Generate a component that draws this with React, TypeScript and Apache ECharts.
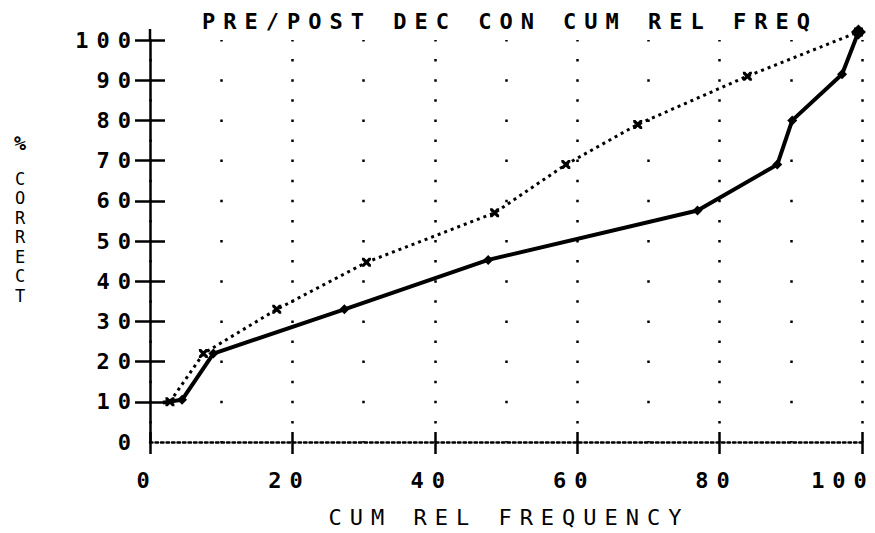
import React, { useEffect, useRef } from "react";
import * as echarts from "echarts";

// ---- data ----
const xTickValues = [0, 20, 40, 60, 80, 100];
const yTickValues = [0, 10, 20, 30, 40, 50, 60, 70, 80, 90, 100];
const yCrossTicks = [10, 20, 30, 40, 50, 60, 70, 80, 90, 100];

const solidX = [1.8, 4.5, 8.9, 27.3, 47.5, 76.9, 88.1, 90.2, 97.2, 99.5];
const solidY = [9.8, 10.5, 22, 33, 45.3, 57.6, 69, 80, 91.5, 102];

const dottedX = [2.8, 7.5, 17.8, 30.4, 48.4, 58.4, 68.5, 83.9, 99.5];
const dottedY = [10, 22, 33, 44.7, 57, 69, 79, 91, 102];

const titleText = "PRE/POST DEC CON CUM REL FREQ";
const xName = "CUM REL FREQUENCY";
const yNameTop = "%";
const yNameLetters = ["C", "O", "R", "R", "E", "C", "T"];

const FONT = "'DejaVu Sans Mono', 'Liberation Mono', monospace";
const crossPath =
  "path://M0,0 L2.5,0 L10,7.5 L10,10 L7.5,10 L0,2.5 Z M7.5,0 L10,0 L10,2.5 L2.5,10 L0,10 L0,7.5 Z";

const labelFont = { color: "#000", fontFamily: FONT, fontSize: 22, fontWeight: "bold" };

export default function App() {
  const ref = useRef<HTMLDivElement>(null);

  useEffect(() => {
    if (!ref.current) return;
    const chart = echarts.init(ref.current, undefined, { renderer: "svg" });
    const solidData = solidX.map((x, i) => [x, solidY[i]]);
    const dottedData = dottedX.map((x, i) => [x, dottedY[i]]);
    const last = solidData.length - 1;
    const maxX = xTickValues[xTickValues.length - 1];

    chart.setOption({
      animation: false,
      backgroundColor: "#ffffff",
      grid: {
        left: 150,
        right: 13,
        top: 40,
        bottom: 91,
        containLabel: false,
        outerBoundsMode: "none",
      },
      xAxis: [
        {
          type: "value",
          min: 0,
          max: 100,
          interval: 20,
          name: xName,
          nameLocation: "middle",
          nameGap: 64,
          nameTextStyle: {
            color: "#000",
            fontFamily: FONT,
            fontSize: 22,
            fontWeight: "normal",
            padding: [0, 0, 0, 6],
          },
          axisLine: { show: true, lineStyle: { color: "#000", width: 2.5, type: [2.5, 3] } },
          axisTick: { show: true, length: 12, lineStyle: { color: "#000", width: 2.5 } },
          axisLabel: {
            show: true,
            margin: 27,
            ...labelFont,
            formatter: (v: number) =>
              xTickValues.includes(v) ? (v === maxX ? `{e|${v}}` : `{n|${v}}`) : "",
            rich: {
              n: { ...labelFont, padding: [0, 6, 0, 0] },
              e: { ...labelFont, padding: [0, 38, 0, 0] },
            },
          },
          splitLine: {
            show: true,
            lineStyle: { color: "#000", width: 2.5, type: [2.5, 17.6], dashOffset: 1.25 },
          },
          minorTick: { show: false, splitNumber: 2 },
          minorSplitLine: {
            show: true,
            lineStyle: { color: "#000", width: 2.5, type: [2.5, 37.7], dashOffset: 1.25 },
          },
        },
        {
          type: "value",
          min: 0,
          max: 100,
          interval: 20,
          position: "bottom",
          axisLine: { show: false },
          axisTick: { show: true, inside: true, length: 10, lineStyle: { color: "#000", width: 2.5 } },
          axisLabel: { show: false },
          splitLine: { show: false },
        },
      ],
      yAxis: [
        {
          type: "value",
          min: 0,
          max: 100,
          interval: 10,
          axisLine: { show: true, lineStyle: { color: "#000", width: 2.5 } },
          axisTick: {
            show: true,
            length: 15,
            customValues: yCrossTicks,
            lineStyle: { color: "#000", width: 2.5 },
          },
          axisLabel: {
            show: true,
            margin: 11,
            ...labelFont,
            formatter: (v: number) => (yTickValues.includes(v) ? String(v) : ""),
          },
          splitLine: { show: false },
        },
        {
          type: "value",
          min: 0,
          max: 100,
          interval: 10,
          position: "left",
          axisLine: { show: false },
          axisTick: {
            show: true,
            inside: true,
            length: 15,
            customValues: yCrossTicks,
            lineStyle: { color: "#000", width: 2.5 },
          },
          axisLabel: { show: false },
          splitLine: { show: false },
        },
      ],
      graphic: [
        {
          type: "line",
          shape: { x1: 150, y1: 29, x2: 150, y2: 41 },
          style: { stroke: "#000", lineWidth: 2.5 },
        },
        {
          type: "text",
          x: 510,
          y: 21,
          style: {
            text: titleText,
            fill: "#000",
            font: `bold 22px ${FONT}`,
            textAlign: "center",
            textVerticalAlign: "middle",
          },
        },
        {
          type: "text",
          x: 14,
          y: 143,
          style: {
            text: yNameTop,
            fill: "#000",
            font: `bold 20px ${FONT}`,
            textAlign: "left",
            textVerticalAlign: "middle",
          },
        },
        {
          type: "text",
          x: 15,
          y: 169,
          style: {
            text: yNameLetters.join("\n"),
            fill: "#000",
            font: `17px ${FONT}`,
            lineHeight: 19.5,
            textAlign: "left",
            textVerticalAlign: "top",
          },
        },
      ],
      series: [
        {
          name: "POST",
          type: "line",
          xAxisIndex: 0,
          yAxisIndex: 0,
          data: solidData,
          clip: false,
          symbol: "diamond",
          symbolSize: (_v: any, p: any) => (p.dataIndex === 0 ? 0 : p.dataIndex === last ? 15 : 10),
          itemStyle: { color: "#000" },
          lineStyle: { color: "#000", width: 4 },
          z: 5,
        },
        {
          name: "PRE",
          type: "line",
          xAxisIndex: 0,
          yAxisIndex: 0,
          data: dottedData,
          clip: false,
          symbol: crossPath,
          symbolSize: 9,
          itemStyle: { color: "#000" },
          lineStyle: { color: "#000", width: 3, type: [3, 4] },
          z: 4,
        },
      ],
    });
    return () => chart.dispose();
  }, []);

  return (
    <div
      ref={ref}
      style={{ width: 875, height: 533, letterSpacing: "8px", position: "absolute", left: 0, top: 0 }}
    />
  );
}
